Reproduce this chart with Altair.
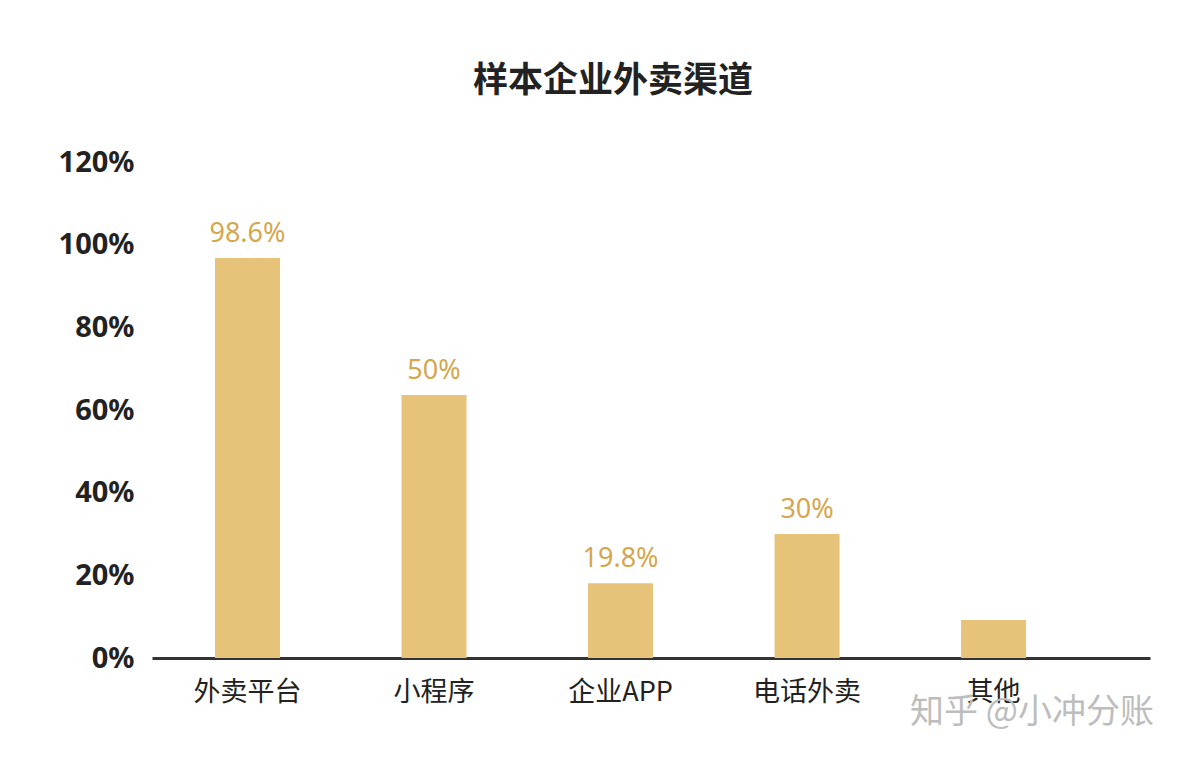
import altair as alt
import pandas as pd

categories = ["外卖平台", "小程序", "企业APP", "电话外卖", "其他"]
bar_values = [96.8, 63.6, 18.1, 30.0, 9.2]
value_labels = ["98.6%", "50%", "19.8%", "30%", ""]
y_ticks = [0, 20, 40, 60, 80, 100, 120]
title_text = "样本企业外卖渠道"
watermark_text = "知乎 @小冲分账"

df = pd.DataFrame({"cat": categories, "val": bar_values, "lab": value_labels})

CJK = "Noto Sans CJK SC"

x_enc = alt.X(
    "cat:N",
    sort=categories,
    title=None,
    scale=alt.Scale(paddingInner=0.6515, paddingOuter=0.501, align=0.337),
    axis=alt.Axis(
        labelAngle=0,
        labelFont=CJK,
        labelFontSize=27,
        labelColor="#222222",
        labelPadding=21,
        ticks=False,
        domainColor="#333333",
        domainWidth=3,
        grid=False,
    ),
)

y_enc = alt.Y(
    "val:Q",
    title=None,
    scale=alt.Scale(domain=[0, 120], nice=False),
    axis=alt.Axis(
        values=y_ticks,
        labelExpr="datum.value + '%'",
        labelFont="Noto Sans",
        labelFontWeight="bold",
        labelFontSize=29,
        labelColor="#222222",
        labelPadding=18,
        ticks=False,
        domain=False,
        grid=False,
    ),
)

bars = alt.Chart(df).mark_bar(color="#E7C37A").encode(x=x_enc, y=y_enc)

labels = alt.Chart(df).mark_text(
    font="Noto Sans",
    fontSize=27,
    color="#D4A74E",
    baseline="alphabetic",
    dy=-16,
).encode(x=alt.X("cat:N", sort=categories), y=alt.Y("val:Q"), text="lab:N")

title_df = pd.DataFrame({"t": [title_text]})
title = alt.Chart(title_df).mark_text(
    font=CJK,
    fontSize=35,
    fontWeight="bold",
    color="#222222",
    baseline="middle",
    align="center",
).encode(x=alt.value(461), y=alt.value(-81), text="t:N")

wm_df = pd.DataFrame({"t": [watermark_text]})
watermark = alt.Chart(wm_df).mark_text(
    font=CJK,
    fontSize=34,
    color="#BDBDBD",
    baseline="middle",
    align="center",
).encode(x=alt.value(880), y=alt.value(551), text="t:N")

chart = (
    alt.layer(bars, labels, title, watermark)
    .properties(
        width=998,
        height=496,
        autosize=alt.AutoSizeParams(type="none"),
        padding={"left": 152, "top": 162, "right": 40, "bottom": 104},
        background="white",
    )
    .configure_view(stroke=None)
)

chart.save("out.html", embed_options={"renderer": "svg", "actions": False})
